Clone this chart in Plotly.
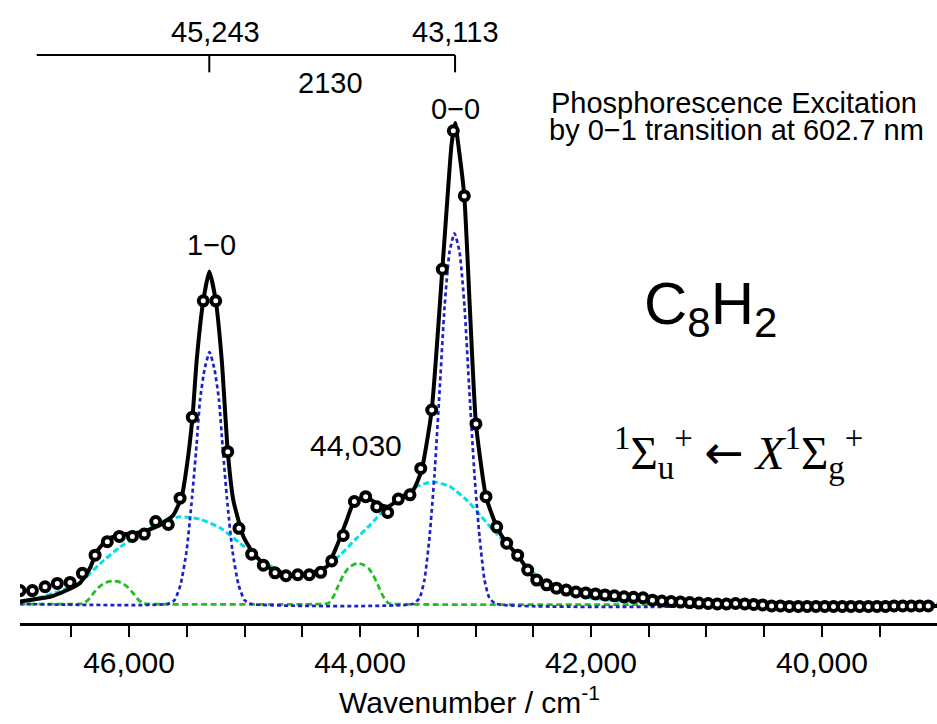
import plotly.graph_objects as go

# ---------------- data (wavenumber / cm^-1, intensity / arb. units) ----------------
data_wn = [46944, 46837, 46727, 46621, 46511, 46404, 46294, 46188, 46084, 45971,
           45868, 45769, 45660, 45558, 45452, 45357, 45249, 45145, 45048, 44938,
           44837, 44736, 44641, 44539, 44439, 44340, 44245, 44145, 44049, 43951,
           43855, 43760, 43668, 43567, 43474, 43379, 43287, 43192, 43097, 42996,
           42909, 42816, 42730, 42635, 42548, 42470, 42384, 42299, 42214, 42130,
           42046, 41961, 41879, 41797, 41714, 41632, 41550, 41468, 41387, 41306,
           41225, 41145, 41065, 40985, 40906, 40827, 40748, 40669, 40591, 40514,
           40436, 40359, 40282, 40205, 40128, 40052, 39976, 39900, 39824, 39749,
           39674, 39598, 39524, 39450, 39376, 39301, 39227, 39154, 39080]
data_int = [0.028, 0.028, 0.036, 0.043, 0.045, 0.064, 0.102, 0.130, 0.141, 0.141,
            0.146, 0.172, 0.166, 0.221, 0.390, 0.633, 0.633, 0.318, 0.158, 0.104,
            0.081, 0.065, 0.059, 0.061, 0.061, 0.066, 0.090, 0.143, 0.214, 0.224,
            0.203, 0.191, 0.219, 0.228, 0.283, 0.405, 0.699, 0.988, 0.852, 0.376,
            0.224, 0.161, 0.127, 0.102, 0.071, 0.050, 0.040, 0.033, 0.029, 0.025,
            0.023, 0.021, 0.019, 0.017, 0.015, 0.014, 0.013, 0.008, 0.006, 0.005,
            0.004, 0.003, 0.002, 0.001, 0.000, 0.000, 0.001, 0.000, -0.001, -0.002,
            -0.004, -0.004, -0.005, -0.005, -0.005, -0.005, -0.005, -0.005, -0.005, -0.005,
            -0.005, -0.005, -0.005, -0.005, -0.004, -0.004, -0.004, -0.004, -0.004]

# total fit (solid black)
fit_wn = [46944, 46814, 46684, 46554, 46424, 46338, 46280, 46193, 46078, 45876,
          45732, 45616, 45544, 45500, 45450, 45414, 45357, 45305, 45249, 45197,
          45145, 45097, 45010, 44924, 44808, 44635, 44520, 44433, 44288, 44202,
          44115, 44058, 43957, 43855, 43755, 43654, 43539, 43466, 43379, 43287,
          43238, 43208, 43177, 43143, 43097, 43048, 42996, 42909, 42816, 42730,
          42635, 42548, 42470, 42268, 41922, 41489, 41056, 40623, 40190, 39004]
fit_int = [0.005, 0.010, 0.015, 0.027, 0.044, 0.075, 0.109, 0.134, 0.144, 0.151,
           0.165, 0.186, 0.224, 0.287, 0.391, 0.509, 0.633, 0.694, 0.633, 0.509,
           0.318, 0.217, 0.141, 0.106, 0.078, 0.061, 0.060, 0.064, 0.078, 0.120,
           0.175, 0.210, 0.224, 0.210, 0.203, 0.221, 0.238, 0.280, 0.405, 0.699,
           0.864, 0.958, 1.004, 0.948, 0.852, 0.614, 0.376, 0.224, 0.161, 0.127,
           0.102, 0.071, 0.050, 0.033, 0.021, 0.010, 0.002, 0.000, -0.003, -0.004]

# narrow band components (blue dotted): 1-0 and 0-0
blue_wn = [46950,
           45667, 45606, 45554, 45502, 45455, 45416, 45385, 45346, 45303,
           45260, 45221, 45190, 45152, 45104, 45052, 45000, 44939,
           43545, 43485, 43442, 43398, 43355, 43312, 43268, 43225, 43182,
           43138, 43095, 43052, 43009, 42965, 42922, 42879, 42818,
           39000]
blue_int = [0.0,
            0.0, 0.008, 0.040, 0.110, 0.220, 0.330, 0.426, 0.490, 0.526,
            0.490, 0.426, 0.330, 0.220, 0.110, 0.040, 0.008, 0.0,
            0.0, 0.012, 0.050, 0.140, 0.270, 0.440, 0.620, 0.735, 0.774,
            0.735, 0.620, 0.440, 0.270, 0.140, 0.050, 0.012, 0.0,
            0.0]

# broad background components (cyan dashed)
cyan_wn = [46944, 46771, 46597, 46424, 46251, 46078, 45905, 45732, 45558, 45385,
           45212, 45039, 44866, 44693, 44563, 44433, 44303, 44173, 44043, 43913,
           43784, 43654, 43524, 43368, 43221, 43076, 42961, 42846, 42701, 42586,
           42442, 42268, 42009, 41662, 41229, 39004]
cyan_int = [0.005, 0.014, 0.027, 0.046, 0.084, 0.119, 0.144, 0.171, 0.182, 0.177,
            0.159, 0.127, 0.092, 0.069, 0.061, 0.065, 0.077, 0.102, 0.134, 0.165,
            0.198, 0.223, 0.244, 0.255, 0.245, 0.217, 0.186, 0.154, 0.117, 0.086,
            0.054, 0.031, 0.013, 0.004, 0.0, 0.0]

# weak bands (green dashed), incl. 44,030
green_wn = [46950,
            46430, 46396, 46352, 46309, 46266, 46223, 46179, 46136, 46093, 46049,
            46006, 45963, 45919, 45876, 45842,
            44309, 44274, 44231, 44188, 44145, 44101, 44058, 44015, 43971, 43928,
            43885, 43842, 43798, 43755, 43720,
            39000]
green_int = [0.0,
             0.0, 0.001, 0.009, 0.022, 0.034, 0.042, 0.0466, 0.048, 0.0466, 0.042,
             0.034, 0.022, 0.009, 0.001, 0.0,
             0.0, 0.0017, 0.015, 0.038, 0.060, 0.075, 0.082, 0.085, 0.082, 0.075,
             0.060, 0.038, 0.015, 0.0017, 0.0,
             0.0]

tick_vals = [39500, 40000, 40500, 41000, 41500, 42000, 42500, 43000,
             43500, 44000, 44500, 45000, 45500, 46000, 46500]
tick_text = ["", "40,000", "", "", "", "42,000", "", "",
             "", "44,000", "", "", "", "46,000", ""]

band_origin = [45305, 43177]      # 1-0 and 0-0 band positions on the plot
band_labels = ["45,243", "43,113"]

FONT = "Liberation Sans, Arial, sans-serif"

fig = go.Figure()

fig.add_trace(go.Scatter(x=cyan_wn, y=cyan_int, mode="lines",
                         line=dict(color="#00e0e6", width=3, dash="6px,3px", shape="spline", smoothing=0.6),
                         hoverinfo="skip"))
fig.add_trace(go.Scatter(x=green_wn, y=green_int, mode="lines",
                         line=dict(color="#1fbf1f", width=2.8, dash="6px,3.5px", shape="spline", smoothing=0.5),
                         hoverinfo="skip"))
fig.add_trace(go.Scatter(x=blue_wn, y=blue_int, mode="lines",
                         line=dict(color="#2020c8", width=2.7, dash="4px,3px", shape="spline", smoothing=0.5),
                         hoverinfo="skip"))
fig.add_trace(go.Scatter(x=fit_wn, y=fit_int, mode="lines",
                         line=dict(color="black", width=4, shape="spline", smoothing=0.5),
                         hoverinfo="skip"))
fig.add_trace(go.Scatter(x=data_wn, y=data_int, mode="markers",
                         marker=dict(symbol="circle", size=9, color="white",
                                     line=dict(color="black", width=4)),
                         hoverinfo="skip"))

# bracket at the top
y_bar, y_tick = 1.146, 1.110
shapes = [
    dict(type="line", xref="x", yref="y", x0=46799, x1=band_origin[1], y0=y_bar, y1=y_bar,
         line=dict(color="black", width=2)),
    dict(type="line", xref="x", yref="y", x0=band_origin[0], x1=band_origin[0], y0=y_bar, y1=y_tick,
         line=dict(color="black", width=2)),
    dict(type="line", xref="x", yref="y", x0=band_origin[1], x1=band_origin[1], y0=y_bar, y1=y_tick,
         line=dict(color="black", width=2)),
]

def ann(x, y, text, size, **kw):
    d = dict(x=x, y=y, xref="x", yref="y", text=text, showarrow=False,
             font=dict(family=FONT, size=size, color="black"))
    d.update(kw)
    return d

annotations = [
    ann(45247, 1.195, band_labels[0], 29),
    ann(band_origin[1], 1.195, band_labels[1], 29),
    ann(44253, 1.088, "2130", 29),
    ann(band_origin[1], 1.034, "0\u22120", 29),
    ann(45284, 0.749, "1\u22120", 29),
    ann(44036, 0.330, "44,030", 30),
    ann(42360, 1.046, "Phosphorescence Excitation", 29, xanchor="left"),
    ann(42380, 0.990, "by 0\u22121 transition at 602.7 nm", 29, xanchor="left"),
    ann(40961, 0.618, "C<sub>8</sub>H<sub>2</sub>", 60),
    dict(x=40719, y=0.315, xref="x", yref="y", showarrow=False,
         text="<sup>1</sup>\u03a3<sub>u</sub><sup>+</sup> "
              "<span style=\"font-family:'DejaVu Sans'\">\u2190</span> "
              "<i>X</i><sup>1</sup>\u03a3<sub>g</sub><sup>+</sup>",
         font=dict(family="Liberation Serif, Times New Roman, serif", size=47, color="black")),
    dict(x=0.4907, y=-0.1236, xref="paper", yref="paper", showarrow=False,
         yanchor="middle", xanchor="center",
         text="Wavenumber / cm<sup>-1</sup>",
         font=dict(family=FONT, size=30, color="black")),
]

fig.update_layout(
    width=937, height=724,
    margin=dict(l=20, r=0, t=0, b=101),
    paper_bgcolor="white", plot_bgcolor="white",
    showlegend=False,
    shapes=shapes, annotations=annotations,
    xaxis=dict(range=[46944, 39004], showgrid=False, zeroline=False,
               showline=True, linecolor="black", linewidth=3,
               ticks="outside", ticklen=11, tickwidth=2.2, tickcolor="black",
               tickvals=tick_vals, ticktext=tick_text, ticklabelstandoff=0,
               tickfont=dict(family=FONT, size=30, color="black")),
    yaxis=dict(range=[-0.0397, 1.261], visible=False, fixedrange=True),
)

fig.write_html("out.html")
